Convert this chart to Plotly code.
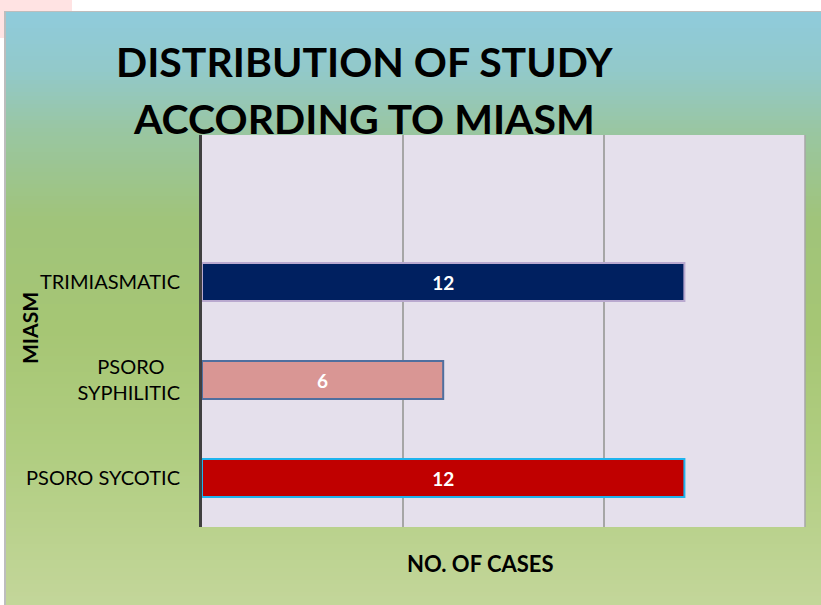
import plotly.graph_objects as go

categories = ["PSORO SYCOTIC", "PSORO SYPHILITIC", "TRIMIASMATIC"]
values = [12, 6, 12]
bar_colors = ["#C00000", "#D99694", "#002060"]
bar_edges = ["#1FB4EE", "#4F6F9F", "#B9A9CF"]
title_lines = ["DISTRIBUTION OF STUDY", "ACCORDING TO MIASM"]
x_title = "NO. OF CASES"
y_title = "MIASM"

W, H = 821, 605
L, R, T, B = 202, 805, 135, 527  # plot area in pixels


def px(x):
    return (x - L) / (R - L)


def py(y):
    return (B - y) / (B - T)


# tick label layout: wrap two-word "PSORO SYPHILITIC", roughly centering the short line
NB = "\u00a0"


def tick_label(c):
    if c == "PSORO SYPHILITIC":
        return "PSORO" + NB * 3 + "<br>SYPHILITIC"
    return c


tick_text = [tick_label(c) for c in categories]

# gradient background stops (pixel y, rgb)
stops = [
    (12, (143, 203, 220)),
    (70, (146, 201, 202)),
    (130, (153, 198, 162)),
    (220, (160, 196, 122)),
    (330, (166, 198, 116)),
    (450, (176, 205, 128)),
    (605, (195, 214, 154)),
]


def col_at(y):
    for (y0, c0), (y1, c1) in zip(stops[:-1], stops[1:]):
        if y0 <= y <= y1:
            t = (y - y0) / (y1 - y0)
            return "rgb(%d,%d,%d)" % tuple(round(a + (b - a) * t) for a, b in zip(c0, c1))
    return "rgb(%d,%d,%d)" % stops[-1][1]


shapes = []
# faint watermark tint top-left
shapes.append(dict(type="rect", xref="paper", yref="paper", x0=px(0), x1=px(72), y0=py(0), y1=py(38),
                   fillcolor="#FFE3E3", line=dict(width=0), layer="below"))
# outer panel border
shapes.append(dict(type="rect", xref="paper", yref="paper", x0=px(4), x1=px(823), y0=py(11), y1=py(607),
                   fillcolor="#BDBDBD", line=dict(width=0), layer="below"))
step = 4
y = 12
while y < 605:
    y2 = min(y + step, 605)
    shapes.append(dict(type="rect", xref="paper", yref="paper", x0=px(6), x1=px(821), y0=py(y), y1=py(y2 + 0.5),
                       fillcolor=col_at(y + step / 2), line=dict(width=0), layer="below"))
    y = y2
# plot area
shapes.append(dict(type="rect", xref="paper", yref="paper", x0=0, x1=1, y0=0, y1=1,
                   fillcolor="#E5E0EC", line=dict(width=0), layer="below"))
# right edge line
shapes.append(dict(type="line", xref="paper", yref="paper", x0=1, x1=1, y0=0, y1=1,
                   line=dict(color="#A6A6A6", width=1.5), layer="below"))

fig = go.Figure()
fig.add_trace(go.Bar(
    y=categories, x=values, orientation="h",
    marker=dict(color=bar_colors, line=dict(color=bar_edges, width=2)),
    width=0.39,
    text=[str(v) for v in values], textposition="inside", insidetextanchor="middle",
    textfont=dict(family="Lato", size=19, color="white", weight="bold"),
    constraintext="none",
    hoverinfo="skip",
))

annotations = [
    dict(text="<b>%s</b>" % title_lines[0], xref="paper", yref="paper", x=px(364), y=py(61),
         xanchor="center", yanchor="middle", showarrow=False,
         font=dict(family="Lato", size=41, color="black")),
    dict(text="<b>%s</b>" % title_lines[1], xref="paper", yref="paper", x=px(364), y=py(118),
         xanchor="center", yanchor="middle", showarrow=False,
         font=dict(family="Lato", size=41, color="black")),
    dict(text="<b>%s</b>" % x_title, xref="paper", yref="paper", x=px(480), y=py(563),
         xanchor="center", yanchor="middle", showarrow=False,
         font=dict(family="Lato", size=22, color="black")),
    dict(text="<b>%s</b>" % y_title, xref="paper", yref="paper", x=px(29), y=py(328),
         xanchor="center", yanchor="middle", showarrow=False, textangle=-90,
         font=dict(family="Lato", size=21, color="black")),
]

fig.update_layout(
    width=W, height=H,
    margin=dict(l=L, r=W - R, t=T, b=H - B, pad=0),
    paper_bgcolor="white", plot_bgcolor="rgba(0,0,0,0)",
    shapes=shapes, annotations=annotations,
    showlegend=False,
    xaxis=dict(range=[0, 15], dtick=5, showgrid=True, gridcolor="#A6A6A6", gridwidth=1.5,
               showticklabels=False, zeroline=False, showline=False, fixedrange=True),
    yaxis=dict(type="category", categoryorder="array", categoryarray=categories,
               tickmode="array", tickvals=categories, ticktext=tick_text,
               range=[-0.5, 3.5], showgrid=False, zeroline=False,
               showline=True, linecolor="#404040", linewidth=3,
               ticks="", ticklabelstandoff=15,
               tickfont=dict(family="Lato", size=20, color="black"), fixedrange=True),
)

fig.write_html("out.html", config={"displayModeBar": False},
               post_script="document.body.style.margin='0';")
